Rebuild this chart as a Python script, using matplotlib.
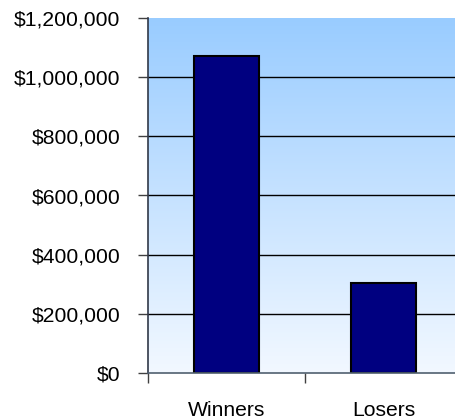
import matplotlib
matplotlib.use("Agg")
import matplotlib.pyplot as plt
import numpy as np
from matplotlib.colors import LinearSegmentedColormap

categories = ["Winners", "Losers"]
values = [1070000, 305000]
yticks = [0, 200000, 400000, 600000, 800000, 1000000, 1200000]
ytick_labels = ["$0", "$200,000", "$400,000", "$600,000", "$800,000", "$1,000,000", "$1,200,000"]

W, H = 456, 419
fig = plt.figure(figsize=(W / 100, H / 100), dpi=100)
plt.rcParams['font.family'] = ['Liberation Sans', 'DejaVu Sans']
left, right, top, bottom = 148, 462, 18, 373
ax = fig.add_axes([left / W, 1 - bottom / H, (right - left) / W, (bottom - top) / H])

ax.set_xlim(-0.5, 1.5)
ax.set_ylim(0, 1200000)

cmap = LinearSegmentedColormap.from_list("bg", ["#f2f8ff", "#99ccff"])
grad = np.linspace(0, 1, 256).reshape(-1, 1)
ax.imshow(grad, extent=[-0.5, 1.5, 0, 1200000], origin="lower", aspect="auto",
          cmap=cmap, zorder=0)

for y in yticks[1:-1]:
    ax.axhline(y, color="black", linewidth=1.0, zorder=1)

x = np.arange(len(categories))
ax.bar(x, values, width=0.414, color="#000080", edgecolor="black", linewidth=1.5, zorder=2)

ax.set_yticks(yticks)
ax.set_yticklabels(ytick_labels, fontsize=15.2)
ax.set_xticks(x)
ax.set_xticklabels(categories, fontsize=15.2)
ax.set_xticks([-0.5, 0.5, 1.5], minor=True)
ax.tick_params(axis="x", which="major", length=0, pad=20)
ax.tick_params(axis="x", which="minor", length=7, width=1, color="#404040", direction="out")
ax.tick_params(axis="y", length=7, width=1, color="#404040", pad=13)

for s in ["top", "right"]:
    ax.spines[s].set_visible(False)
ax.spines["left"].set_color("#303848")
ax.spines["left"].set_linewidth(1.2)
ax.spines["bottom"].set_color("#506070")
ax.spines["bottom"].set_linewidth(1.2)

fig.savefig("out.png", dpi=100)
